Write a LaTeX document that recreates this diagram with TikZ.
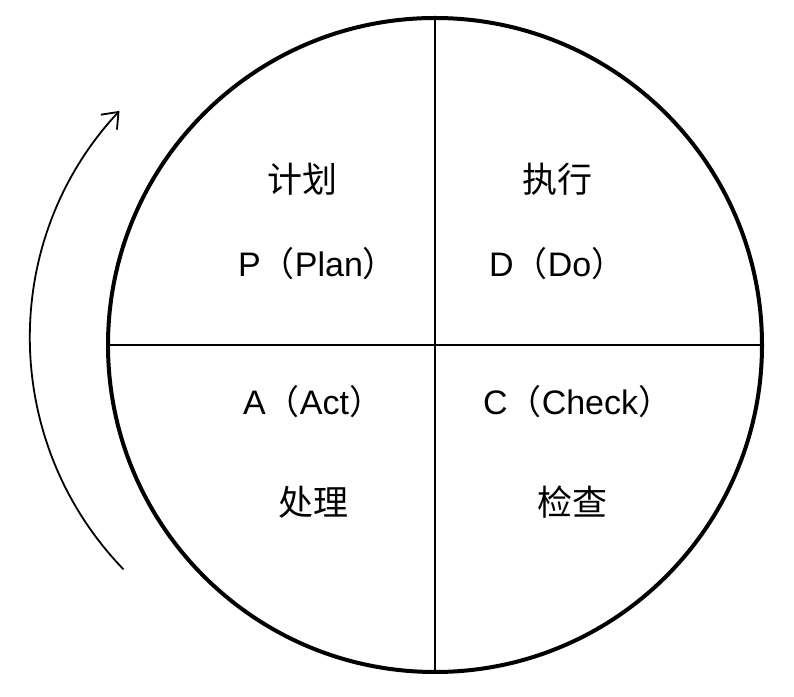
\documentclass[tikz,border=0pt]{standalone}
\usepackage{fontspec}
\setmainfont{Liberation Sans}
\newfontfamily\cjk{Noto Sans CJK SC}
\usetikzlibrary{arrows.meta}
\begin{document}
\begin{tikzpicture}[x=1pt,y=1pt,
  lbl/.style={inner sep=0pt,font=\fontsize{34}{40}\selectfont},
  cn/.style={inner sep=0pt,font=\cjk\fontsize{35}{40}\selectfont}]
\useasboundingbox (0,0) rectangle (794,696);
\coordinate (c) at (435,351);
\draw[line width=4pt] (c) circle[radius=327];
\coordinate (top) at (435,678);
\coordinate (bot) at (435,24);
\coordinate (lft) at (108,351);
\coordinate (rgt) at (762,351);
\draw[line width=2pt] (top) -- (bot);
\draw[line width=2pt] (lft) -- (rgt);
\coordinate (ac) at (363,358);
\draw[line width=1.8pt,-{Straight Barb[length=14pt,width=22pt,line width=1.8pt]}] ([shift={(224:333)}]ac) arc[start angle=224,end angle=137,radius=333];
\node[cn] (jh) at (302,517) {计划};
\node[cn] (zx) at (557,517) {执行};
\node[cn] (cl) at (313,194) {处理};
\node[cn] (jc) at (572,194) {检查};
\node[lbl,anchor=base west] (p) at (238,419) {P{\cjk （}Plan{\cjk ）}};
\node[lbl,anchor=base west] (d) at (489,419) {D{\cjk （}Do{\cjk ）}};
\node[lbl,anchor=base west] (a) at (243,281) {A{\cjk （}Act{\cjk ）}};
\node[lbl,anchor=base west] (ch) at (483,281) {C{\cjk （}Check{\cjk ）}};
\end{tikzpicture}
\end{document}
